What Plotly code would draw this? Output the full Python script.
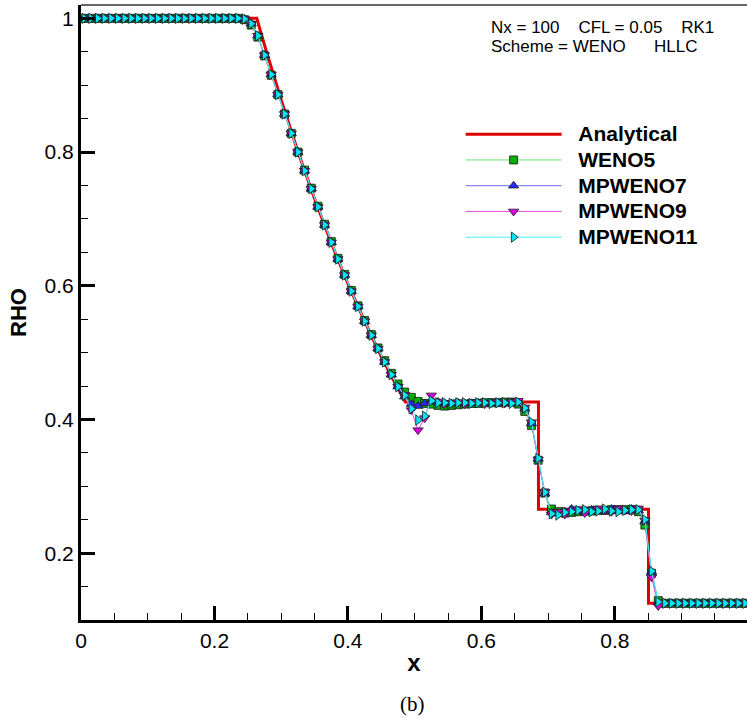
import plotly.graph_objects as go

# ---------------- data ----------------
x_cells = [0.005, 0.015, 0.025, 0.035, 0.045, 0.055, 0.065, 0.075, 0.085, 0.095,
           0.105, 0.115, 0.125, 0.135, 0.145, 0.155, 0.165, 0.175, 0.185, 0.195,
           0.205, 0.215, 0.225, 0.235, 0.245, 0.255, 0.265, 0.275, 0.285, 0.295,
           0.305, 0.315, 0.325, 0.335, 0.345, 0.355, 0.365, 0.375, 0.385, 0.395,
           0.405, 0.415, 0.425, 0.435, 0.445, 0.455, 0.465, 0.475, 0.485, 0.495,
           0.505, 0.515, 0.525, 0.535, 0.545, 0.555, 0.565, 0.575, 0.585, 0.595,
           0.605, 0.615, 0.625, 0.635, 0.645, 0.655, 0.665, 0.675, 0.685, 0.695,
           0.705, 0.715, 0.725, 0.735, 0.745, 0.755, 0.765, 0.775, 0.785, 0.795,
           0.805, 0.815, 0.825, 0.835, 0.845, 0.855, 0.865, 0.875, 0.885, 0.895,
           0.905, 0.915, 0.925, 0.935, 0.945, 0.955, 0.965, 0.975, 0.985, 0.995]

x_exact = [0.0, 0.2634, 0.275, 0.285, 0.300, 0.325, 0.350, 0.375, 0.400, 0.425,
           0.450, 0.465, 0.475, 0.4859, 0.6855, 0.6855, 0.8504, 0.8504, 1.0]
rho_exact = [1.0, 1.0, 0.960, 0.926, 0.878, 0.801, 0.730, 0.664, 0.603, 0.547,
             0.494, 0.465, 0.446, 0.4263, 0.4263, 0.2656, 0.2656, 0.125, 0.125]

rho_weno5 = [1.0, 1.0, 1.0, 1.0, 1.0, 1.0, 1.0, 1.0, 1.0, 1.0,
             1.0, 1.0, 1.0, 1.0, 1.0, 1.0, 1.0, 1.0, 1.0, 1.0,
             1.0, 1.0, 1.0, 1.0, 0.998, 0.990, 0.972, 0.944, 0.915, 0.886,
             0.857, 0.828, 0.800, 0.773, 0.746, 0.719, 0.692, 0.666, 0.641, 0.617,
             0.593, 0.570, 0.548, 0.527, 0.507, 0.488, 0.469, 0.453, 0.441, 0.433,
             0.427, 0.424, 0.423, 0.421, 0.420, 0.421, 0.422, 0.423, 0.424, 0.424,
             0.425, 0.425, 0.425, 0.426, 0.426, 0.423, 0.412, 0.391, 0.339, 0.290,
             0.266, 0.262, 0.260, 0.261, 0.262, 0.263, 0.263, 0.264, 0.264, 0.265,
             0.265, 0.265, 0.265, 0.262, 0.242, 0.170, 0.129, 0.125, 0.125, 0.125,
             0.125, 0.125, 0.125, 0.125, 0.125, 0.125, 0.125, 0.125, 0.125, 0.125]

rho_mpweno7 = [1.0, 1.0, 1.0, 1.0, 1.0, 1.0, 1.0, 1.0, 1.0, 1.0,
               1.0, 1.0, 1.0, 1.0, 1.0, 1.0, 1.0, 1.0, 1.0, 1.0,
               1.0, 1.0, 1.0, 1.0, 0.999, 0.992, 0.974, 0.945, 0.916, 0.886,
               0.857, 0.828, 0.800, 0.772, 0.745, 0.718, 0.691, 0.665, 0.640, 0.616,
               0.592, 0.569, 0.547, 0.526, 0.506, 0.486, 0.467, 0.449, 0.434, 0.423,
               0.420, 0.424, 0.427, 0.426, 0.424, 0.424, 0.425, 0.424, 0.424, 0.425,
               0.424, 0.425, 0.425, 0.424, 0.425, 0.424, 0.416, 0.394, 0.341, 0.289,
               0.261, 0.259, 0.262, 0.266, 0.263, 0.262, 0.265, 0.264, 0.263, 0.266,
               0.264, 0.263, 0.266, 0.264, 0.247, 0.172, 0.126, 0.125, 0.125, 0.125,
               0.125, 0.125, 0.125, 0.125, 0.125, 0.125, 0.125, 0.125, 0.125, 0.125]

rho_mpweno9 = [1.0, 1.0, 1.0, 1.0, 1.0, 1.0, 1.0, 1.0, 1.0, 1.0,
               1.0, 1.0, 1.0, 1.0, 1.0, 1.0, 1.0, 1.0, 1.0, 1.0,
               1.0, 1.0, 1.0, 1.0, 0.999, 0.992, 0.974, 0.945, 0.916, 0.886,
               0.857, 0.828, 0.800, 0.772, 0.745, 0.718, 0.691, 0.665, 0.640, 0.616,
               0.592, 0.569, 0.547, 0.526, 0.506, 0.486, 0.467, 0.449, 0.437, 0.414,
               0.384, 0.402, 0.436, 0.427, 0.423, 0.425, 0.426, 0.423, 0.425, 0.426,
               0.423, 0.425, 0.426, 0.424, 0.426, 0.428, 0.418, 0.396, 0.340, 0.292,
               0.258, 0.262, 0.258, 0.263, 0.266, 0.260, 0.263, 0.267, 0.264, 0.262,
               0.267, 0.264, 0.263, 0.267, 0.249, 0.164, 0.121, 0.125, 0.125, 0.125,
               0.125, 0.125, 0.125, 0.125, 0.125, 0.125, 0.125, 0.125, 0.125, 0.125]

rho_mpweno11 = [1.0, 1.0, 1.0, 1.0, 1.0, 1.0, 1.0, 1.0, 1.0, 1.0,
                1.0, 1.0, 1.0, 1.0, 1.0, 1.0, 1.0, 1.0, 1.0, 1.0,
                1.0, 1.0, 1.0, 1.0, 0.999, 0.992, 0.974, 0.945, 0.916, 0.886,
                0.857, 0.828, 0.800, 0.772, 0.745, 0.718, 0.691, 0.665, 0.640, 0.616,
                0.592, 0.569, 0.547, 0.526, 0.506, 0.486, 0.467, 0.449, 0.436, 0.416,
                0.399, 0.405, 0.428, 0.425, 0.425, 0.424, 0.425, 0.425, 0.424, 0.425,
                0.425, 0.424, 0.425, 0.425, 0.424, 0.426, 0.417, 0.396, 0.342, 0.291,
                0.259, 0.257, 0.261, 0.262, 0.264, 0.265, 0.262, 0.263, 0.266, 0.263,
                0.262, 0.264, 0.265, 0.265, 0.250, 0.173, 0.127, 0.125, 0.125, 0.125,
                0.125, 0.125, 0.125, 0.125, 0.125, 0.125, 0.125, 0.125, 0.125, 0.125]

series_names = ["WENO5", "MPWENO7", "MPWENO9", "MPWENO11"]
series_values = [rho_weno5, rho_mpweno7, rho_mpweno9, rho_mpweno11]

# ---------------- styles ----------------
line_colors = ["#6ee06e", "#6a6ae8", "#e050e0", "#40f0f0"]
marker_colors = ["#00b000", "#2a2aff", "#e000e0", "#00e8f0"]
marker_symbols = ["square", "triangle-up", "triangle-down", "triangle-right"]
marker_sizes = [8, 9, 9, 9]

FONT = "Liberation Sans, Arial, Helvetica, sans-serif"


def legend_label(name):
    return ('<span style="font-size:21px"><b>\u00a0\u00a0' + name + '</b></span>')


fig = go.Figure()
fig.add_trace(go.Scatter(
    x=x_exact, y=rho_exact, mode="lines", name=legend_label("Analytical"),
    line=dict(color="#dd0000", width=3)))

for name, vals, lc, mc, ms, sz in zip(series_names, series_values, line_colors,
                                      marker_colors, marker_symbols, marker_sizes):
    fig.add_trace(go.Scatter(
        x=x_cells, y=vals, mode="lines+markers", name=legend_label(name),
        line=dict(color=lc, width=1),
        marker=dict(symbol=ms, size=sz, color=mc,
                    line=dict(color="#1a1a1a", width=0.8))))

axis_common = dict(
    showgrid=False, zeroline=False, showline=True, linewidth=3, linecolor="black",
    ticks="inside", ticklen=14, tickwidth=3, tickcolor="black",
    tickfont=dict(family=FONT, size=21, color="black"),
    minor=dict(ticks="inside", ticklen=7, tickwidth=1, tickcolor="black", dtick=0.05),
)

fig.update_xaxes(range=[0, 0.998], tick0=0, dtick=0.2,
                 title=dict(text="<b>x</b>", font=dict(family=FONT, size=24, color="black"),
                            standoff=3),
                 **axis_common)
fig.update_yaxes(range=[0.1, 1.02], tick0=0, dtick=0.2,
                 title=dict(text="<b>RHO</b>", font=dict(family=FONT, size=22, color="black"),
                            standoff=12),
                 **axis_common)

fig.update_layout(
    width=747, height=718,
    margin=dict(l=81, r=0, t=5, b=98),
    plot_bgcolor="white", paper_bgcolor="white",
    font=dict(family=FONT, color="black"),
    showlegend=True,
    legend=dict(x=0.570, y=0.819, xanchor="left", yanchor="top",
                bgcolor="rgba(0,0,0,0)", borderwidth=0,
                font=dict(family=FONT, size=17.5, color="black"),
                itemwidth=96, tracegroupgap=0),
    shapes=[dict(type="line", xref="paper", yref="paper", x0=0, x1=1, y0=1, y1=1,
                 line=dict(color="#333333", width=1.5))],
    annotations=[
        dict(text="Nx = 100\u00a0\u00a0\u00a0\u00a0CFL = 0.05\u00a0\u00a0\u00a0\u00a0RK1",
             xref="paper", yref="paper", x=0.6126, y=0.9634, xanchor="left", yanchor="middle",
             showarrow=False, font=dict(family=FONT, size=17, color="black")),
        dict(text="Scheme = WENO\u00a0\u00a0\u00a0\u00a0\u00a0\u00a0HLLC",
             xref="paper", yref="paper", x=0.6126, y=0.9325, xanchor="left", yanchor="middle",
             showarrow=False, font=dict(family=FONT, size=17, color="black")),
        dict(text="(b)", xref="paper", yref="paper", x=0.497, y=-0.1366,
             xanchor="center", yanchor="middle", showarrow=False,
             font=dict(family="Liberation Serif, Times New Roman, serif", size=21, color="black")),
    ],
)

fig.write_html("out.html")
